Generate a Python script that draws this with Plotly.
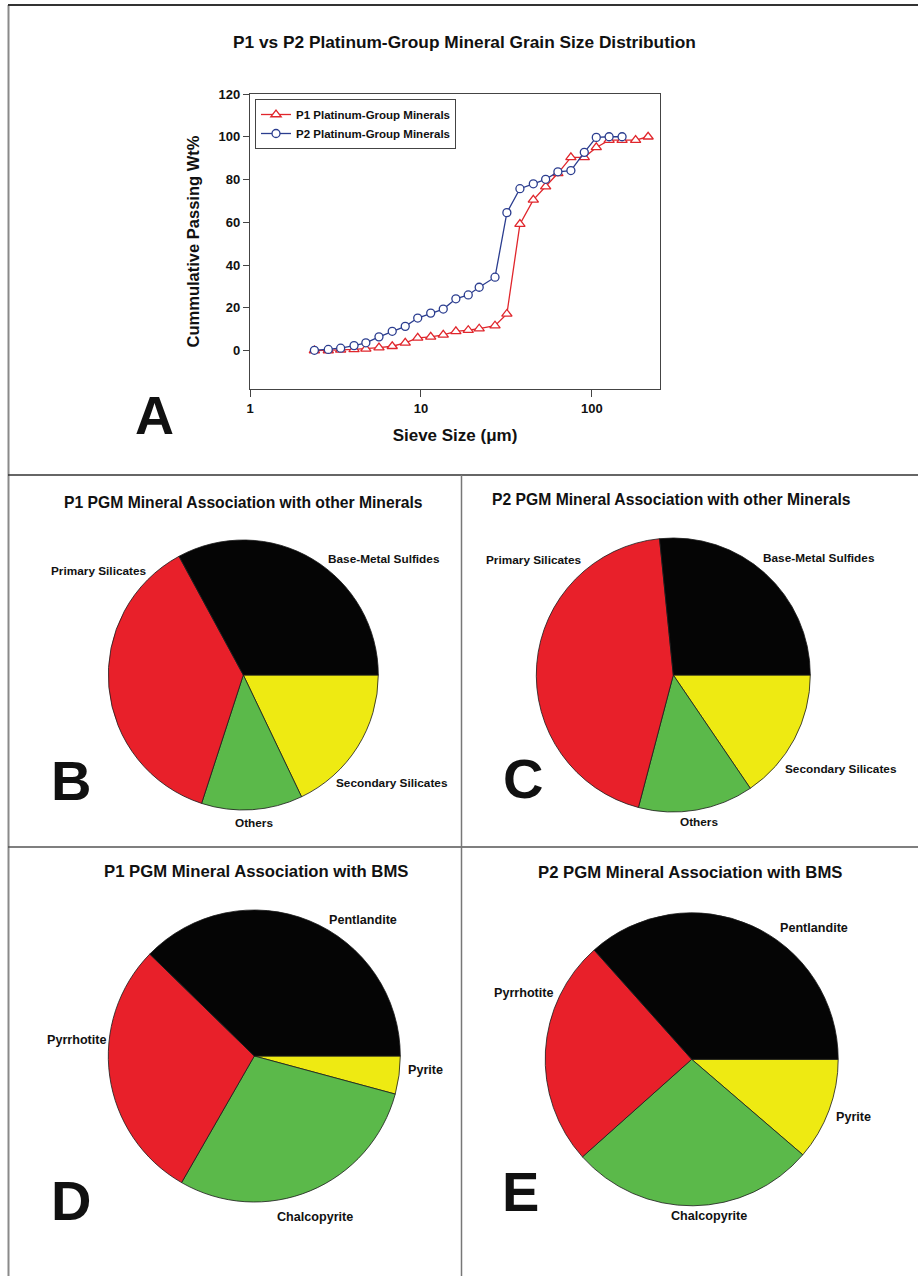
import math
import plotly.graph_objects as go

W, H = 918, 1276

# ---- Panel A: grain size distribution ----
sieve_um = [2.38, 2.87, 3.39, 4.06, 4.76, 5.68, 6.79, 8.09, 9.57, 11.4, 13.5, 16.0,
            18.9, 21.9, 27.1, 31.8, 37.9, 45.4, 53.6, 63.2, 75.3, 90.2, 106, 126,
            150, 180, 213]
p1_passing = [0.0, 0.0, 0.3, 0.5, 0.8, 1.4, 2.0, 3.6, 5.9, 6.4, 7.3, 9.0, 9.5, 10.2,
              11.6, 17.1, 59.1, 70.5, 76.7, 82.9, 90.4, 90.4, 95.0, 98.4, 98.4, 98.4,
              100.0]
p2_passing = [0.1, 0.5, 1.1, 2.3, 3.6, 6.4, 9.0, 11.3, 15.2, 17.5, 19.4, 24.2, 26.0,
              29.6, 34.3, 64.5, 75.7, 78.0, 80.1, 83.6, 84.2, 92.7, 99.7, 100.0, 100.0]
y_ticks = [0, 20, 40, 60, 80, 100, 120]
x_ticks = [1, 10, 100]

# ---- Panels B/C: association with other minerals ----
other_labels = ["Secondary Silicates", "Others", "Primary Silicates", "Base-Metal Sulfides"]
p1_other = [17.9, 12.1, 37.1, 32.9]
p2_other = [15.5, 13.6, 44.3, 26.6]

# ---- Panels D/E: association with base-metal sulfides ----
bms_labels = ["Pyrite", "Chalcopyrite", "Pyrrhotite", "Pentlandite"]
p1_bms = [4.2, 29.1, 29.0, 37.7]
p2_bms = [11.3, 27.1, 25.0, 36.6]

slice_colors = ["#eeea12", "#5bb94a", "#e8202a", "#050505"]

RED = "#e0262c"
BLUE = "#2b3d8f"
BOLD = dict(family="Liberation Sans, Arial, sans-serif", color="#111", weight="bold")


def px_x(x):
    return x / W


def px_y(y):
    return 1 - y / H


def font(size, **kw):
    f = dict(BOLD)
    f["size"] = size
    f.update(kw)
    return f


fig = go.Figure()

fig.add_trace(go.Scatter(
    x=sieve_um, y=p1_passing, mode="lines+markers",
    name="P1 Platinum-Group Minerals",
    line=dict(color=RED, width=1.3),
    marker=dict(symbol="triangle-up", size=9, color="white",
                line=dict(color=RED, width=1.3)),
    xaxis="x", yaxis="y",
))
fig.add_trace(go.Scatter(
    x=sieve_um[:len(p2_passing)], y=p2_passing, mode="lines+markers",
    name="P2 Platinum-Group Minerals",
    line=dict(color=BLUE, width=1.3),
    marker=dict(symbol="circle", size=8, color="white",
                line=dict(color=BLUE, width=1.3)),
    xaxis="x", yaxis="y",
))


def pie(labels, values, cx, cy, r):
    return go.Pie(
        labels=labels, values=values, sort=False, direction="clockwise",
        rotation=90, textinfo="none", hoverinfo="label+value",
        marker=dict(colors=slice_colors, line=dict(color="#1a1a1a", width=0.8)),
        domain=dict(x=[px_x(cx - r), px_x(cx + r)], y=[px_y(cy + r), px_y(cy - r)]),
        showlegend=False, automargin=False,
    )


fig.add_trace(pie(other_labels, p1_other, 243.3, 675, 135))
fig.add_trace(pie(other_labels, p2_other, 673.3, 675, 137))
fig.add_trace(pie(bms_labels, p1_bms, 254.3, 1056, 146))
fig.add_trace(pie(bms_labels, p2_bms, 691.7, 1059.3, 146.5))

annotations = []


def text(s, x, y, size, **kw):
    annotations.append(dict(
        text=s, x=px_x(x), y=px_y(y), xref="paper", yref="paper",
        showarrow=False, xanchor="center", yanchor="middle",
        font=font(size, **kw),
    ))


# titles
text("P1 vs P2 Platinum-Group Mineral Grain Size Distribution", 464.5, 42, 17.3)
text("P1 PGM Mineral Association with other Minerals", 243.5, 502.5, 15.7)
text("P2 PGM Mineral Association with other Minerals", 671.5, 500, 15.7)
text("P1 PGM Mineral Association with BMS", 255.5, 871, 16.7)
text("P2 PGM Mineral Association with BMS", 689.5, 872.5, 16.7)

# slice labels
text("Base-Metal Sulfides", 384, 559, 11.8)
text("Primary Silicates", 98.5, 571, 11.8)
text("Secondary Silicates", 392, 783, 11.8)
text("Others", 254, 823, 11.8)
text("Primary Silicates", 534, 560, 11.8)
text("Base-Metal Sulfides", 819, 557.7, 11.8)
text("Secondary Silicates", 841, 769.3, 11.8)
text("Others", 698.5, 821.7, 11.8)
text("Pentlandite", 362.5, 920, 12.6)
text("Pyrrhotite", 76.5, 1040, 12.6)
text("Pyrite", 425.5, 1070, 12.6)
text("Chalcopyrite", 315, 1216.7, 12.6)
text("Pentlandite", 813.5, 928.3, 12.6)
text("Pyrrhotite", 523.5, 993.3, 12.6)
text("Pyrite", 853, 1116.7, 12.6)
text("Chalcopyrite", 708.5, 1215.7, 12.6)

# panel letters
text("A", 154, 415, 54)
text("B", 71, 780, 56)
text("C", 522.5, 778, 56)
text("D", 71, 1200, 56)
text("E", 520.5, 1191, 56)

# panel frame lines
shapes = []


def line(x0, y0, x1, y1, color, width):
    shapes.append(dict(type="line", xref="paper", yref="paper",
                       x0=px_x(x0), y0=px_y(y0), x1=px_x(x1), y1=px_y(y1),
                       line=dict(color=color, width=width)))


line(8.5, 5, 8.5, H, "#8a8a8a", 2)
line(8, 5, W, 5, "#333", 2)
line(8, 475, W, 475, "#333", 1.5)
line(8, 847, W, 847, "#555", 1.5)
line(461.5, 475, 461.5, H, "#777", 1.5)

fig.update_layout(
    width=W, height=H,
    margin=dict(l=0, r=0, t=0, b=0, pad=0, autoexpand=False),
    paper_bgcolor="white", plot_bgcolor="white",
    annotations=annotations, shapes=shapes,
    xaxis=dict(
        type="log", range=[0, math.log10(250)],
        domain=[px_x(250), px_x(660)],
        tickvals=x_ticks, ticktext=[str(v) for v in x_ticks],
        ticks="outside", ticklen=7, tickcolor="#444",
        showline=True, linecolor="#444", linewidth=1.2, mirror=True,
        showgrid=False, zeroline=False, automargin=False,
        tickfont=font(13),
        title=dict(text="Sieve Size (\u03bcm)", font=font(17), standoff=14),
    ),
    yaxis=dict(
        range=[-18, 120], domain=[px_y(389), px_y(94)],
        tickvals=y_ticks, ticks="outside", ticklen=6, tickcolor="#444",
        showline=True, linecolor="#444", linewidth=1.2, mirror=True,
        showgrid=False, zeroline=False, automargin=False,
        tickfont=font(13),
        title=dict(text="Cummulative Passing Wt%", font=font(16.5), standoff=14),
    ),
    legend=dict(
        x=px_x(255), y=px_y(99), xanchor="left", yanchor="top",
        bgcolor="white", bordercolor="#444", borderwidth=1,
        font=font(11.5), tracegroupgap=0,
    ),
    showlegend=True,
)

fig.write_html("out.html")
